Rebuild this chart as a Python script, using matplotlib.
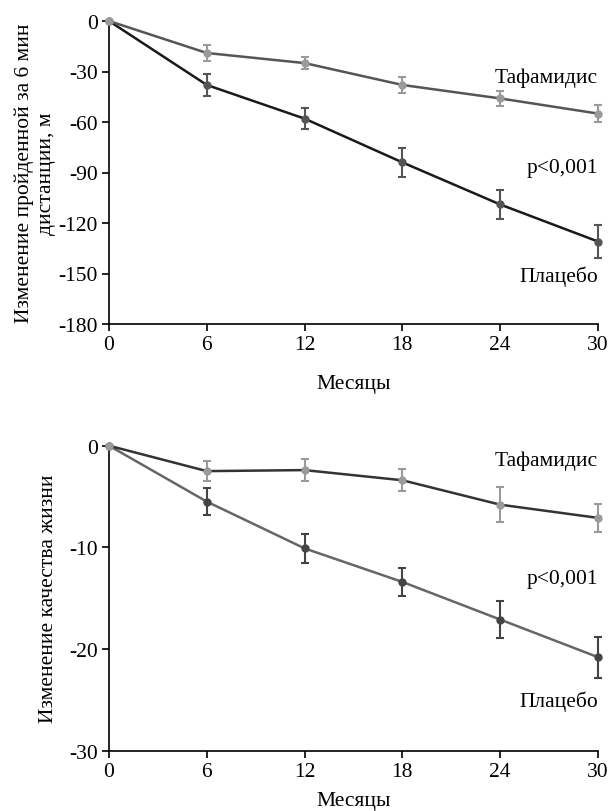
import numpy as np
import matplotlib
matplotlib.use("Agg")
import matplotlib.pyplot as plt

plt.rcParams['font.family'] = ['Liberation Serif', 'DejaVu Serif']
plt.rcParams['axes.unicode_minus'] = False

months = [0, 6, 12, 18, 24, 30]

# 6-minute walk distance change, m
walk_taf = [0, -19, -25, -38, -46, -55]
walk_taf_err = [0, 4.5, 3.5, 5, 4.6, 5]
walk_pla = [0, -38, -58, -84, -109, -131]
walk_pla_err = [0, 6.4, 6.4, 8.8, 8.9, 9.9]

# quality of life change
qol_taf = [0, -2.5, -2.4, -3.4, -5.8, -7.1]
qol_taf_err = [0, 1.0, 1.1, 1.1, 1.75, 1.4]
qol_pla = [0, -5.5, -10.1, -13.4, -17.1, -20.8]
qol_pla_err = [0, 1.3, 1.4, 1.35, 1.85, 2.0]

W, H = 610, 812
fig = plt.figure(figsize=(W / 100, H / 100), dpi=100)

ax1 = fig.add_axes([109 / W, 1 - 325 / H, 489 / W, 303 / H])
ax2 = fig.add_axes([109 / W, 1 - 751.7 / H, 489 / W, 305 / H])

fs = 15.5


def series(ax, y, err, line_c, mark_c, err_c):
    ax.errorbar(months, y, yerr=err, color=line_c, lw=1.8, marker='o',
                ms=5, mfc=mark_c, mec=mark_c, ecolor=err_c, elinewidth=1.5,
                capsize=3, capthick=1.5, clip_on=False, zorder=3)


series(ax1, walk_pla, walk_pla_err, '#1a1a1a', '#555555', '#555555')
series(ax1, walk_taf, walk_taf_err, '#555555', '#9a9a9a', '#9a9a9a')
series(ax2, qol_pla, qol_pla_err, '#666666', '#444444', '#444444')
series(ax2, qol_taf, qol_taf_err, '#333333', '#9a9a9a', '#9a9a9a')

ax1.set_ylim(-180, 0)
ax1.set_yticks(np.arange(-180, 1, 30))
ax2.set_ylim(-30, 0)
ax2.set_yticks([-30, -20, -10, 0])

for ax in (ax1, ax2):
    ax.set_xlim(0, 30)
    ax.set_xticks(months)
    for s in ('top', 'right'):
        ax.spines[s].set_visible(False)
    ax.spines['left'].set_linewidth(1.2)
    ax.spines['bottom'].set_linewidth(1.2)
    ax.tick_params(direction='out', length=5, width=1.2, labelsize=fs, pad=3)

ax1.set_xlabel('Месяцы', fontsize=fs, labelpad=14)
ax2.set_xlabel('Месяцы', fontsize=fs, labelpad=7)

ax1.set_ylabel('Изменение пройденной за 6 мин\nдистанции, м', fontsize=fs,
               labelpad=2, linespacing=1.2)
ax2.set_ylabel('Изменение качества жизни', fontsize=fs, labelpad=8)

ax1.text(1.0, 0.815, 'Тафамидис', transform=ax1.transAxes, ha='right', va='center', fontsize=fs)
ax1.text(1.0, 0.518, 'p<0,001', transform=ax1.transAxes, ha='right', va='center', fontsize=fs)
ax1.text(1.0, 0.158, 'Плацебо', transform=ax1.transAxes, ha='right', va='center', fontsize=fs)
ax2.text(1.0, 0.953, 'Тафамидис', transform=ax2.transAxes, ha='right', va='center', fontsize=fs)
ax2.text(1.0, 0.563, 'p<0,001', transform=ax2.transAxes, ha='right', va='center', fontsize=fs)
ax2.text(1.0, 0.163, 'Плацебо', transform=ax2.transAxes, ha='right', va='center', fontsize=fs)

fig.savefig('out.png', dpi=100)
